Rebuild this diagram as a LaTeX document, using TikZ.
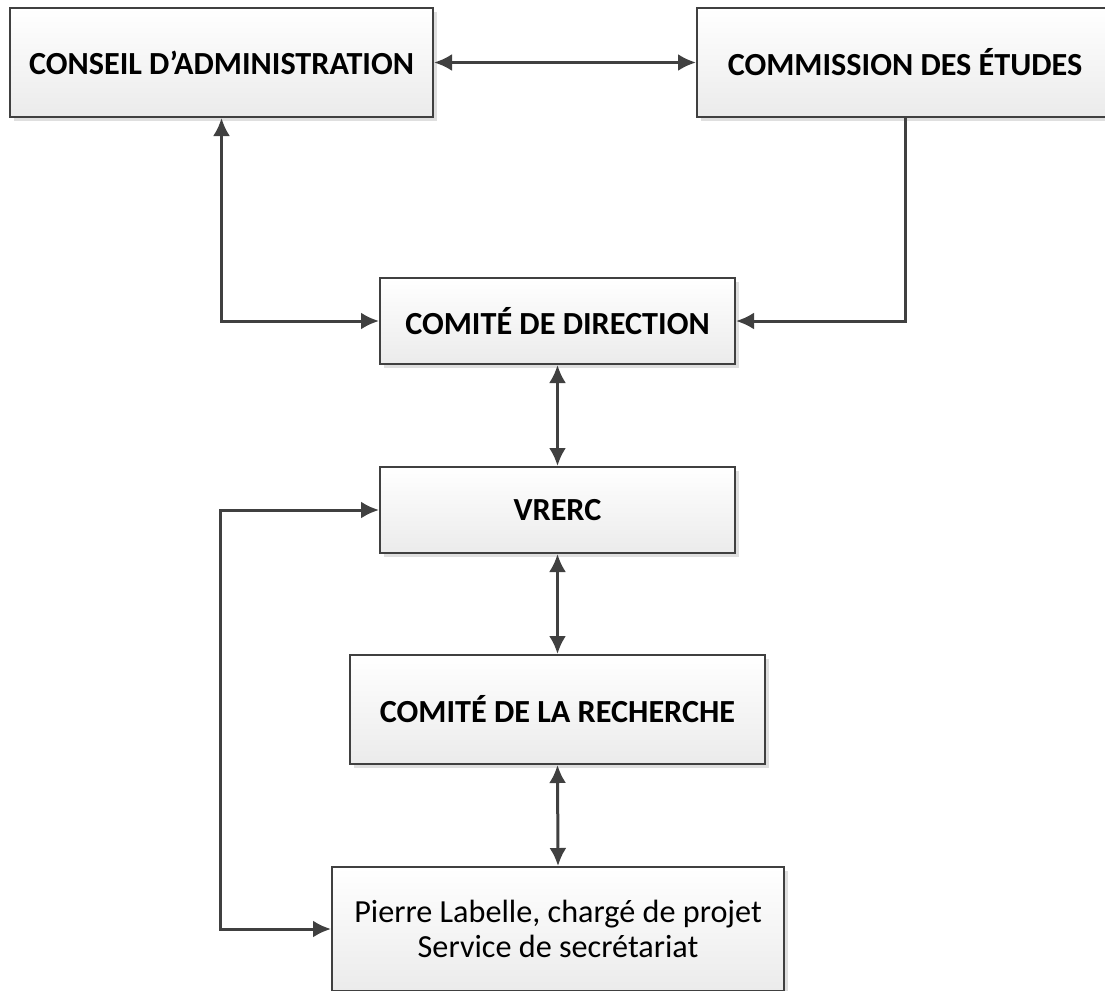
\documentclass[tikz,border=0pt]{standalone}
\usepackage{fontspec}
\setmainfont{Carlito}
\usepackage{tikz}
\usetikzlibrary{arrows.meta}
\usetikzlibrary{shadows}
\definecolor{linecolor}{HTML}{404040}
\definecolor{boxbottom}{HTML}{EBEBEB}
\tikzset{
  orgbox/.style={draw=linecolor, line width=2pt, top color=white, bottom color=boxbottom,
    align=center, inner sep=0pt, font=\fontsize{32.2}{35}\selectfont,
    drop shadow={shadow xshift=4pt, shadow yshift=-4pt, fill=black!25, opacity=0.5}},
  link/.style={draw=linecolor, line width=3pt, >={Latex[length=18pt,width=17pt]}}
}

\begin{document}
\begin{tikzpicture}[x=1pt,y=1pt]
  \clip (0,0) rectangle (1105,-990);
%% boxes
  \node[orgbox, minimum width=423pt, minimum height=109pt] (conseil) at (221.5,-62.5) {\bfseries CONSEIL D’ADMINISTRATION};
  \node[orgbox, minimum width=416pt, minimum height=109pt] (commission) at (905,-62.5) {\bfseries COMMISSION DES ÉTUDES};
  \node[orgbox, minimum width=355pt, minimum height=86pt] (direction) at (557.5,-321) {\bfseries COMITÉ DE DIRECTION};
  \node[orgbox, minimum width=355pt, minimum height=86pt] (vrerc) at (557.5,-510) {\bfseries VRERC};
  \node[orgbox, minimum width=415pt, minimum height=109pt] (recherche) at (557.5,-709.5) {\bfseries COMITÉ DE LA RECHERCHE};
  \node[orgbox, minimum width=452pt, minimum height=124pt] (pierre) at (558,-929) {Pierre Labelle, chargé de projet\\Service de secrétariat};
%% links
  \draw[link,<->] (conseil.east) -- (commission.west);
  \draw[link,<->] (conseil.south) |- (direction.west);
  \draw[link,->] (commission.south) |- (direction.east);
  \foreach \a/\b in {direction/vrerc, vrerc/recherche, recherche/pierre}
    \draw[link,<->] (\a.south) -- (\b.north);
  \coordinate (loop) at (220,-510);
  \draw[link,<->] (vrerc.west) -- (loop) |- (pierre.west);
\end{tikzpicture}
\end{document}
